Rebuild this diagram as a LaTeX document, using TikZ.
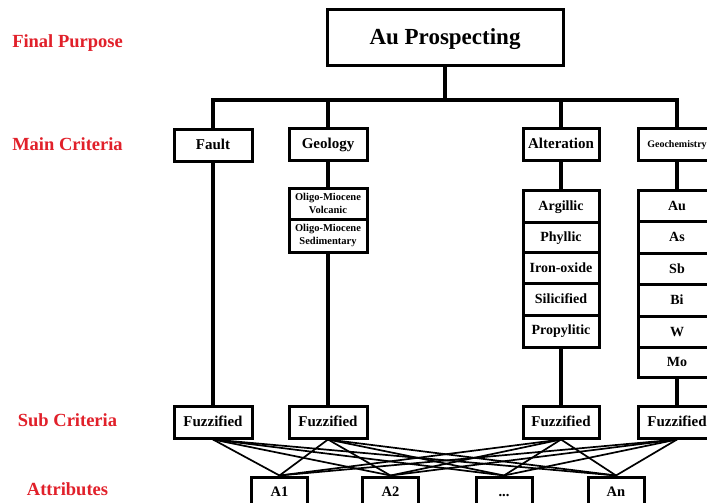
\documentclass[tikz,border=0pt]{standalone}
\usepackage{fontspec}
\setmainfont{Liberation Serif}
\definecolor{lblred}{RGB}{225,32,42}
\begin{document}
\begin{tikzpicture}[x=1pt,y=-1pt,
  box/.style={draw, line width=3pt, inner sep=0pt, text depth=0pt},
  topbox/.style={box, minimum width=236pt, minimum height=56pt, text height=15.2pt, font=\fontsize{23pt}{27pt}\selectfont\bfseries},
  mainbox/.style={box, minimum width=78pt, minimum height=32pt, text height=9.9pt, font=\fontsize{15pt}{18pt}\selectfont\bfseries},
  cell/.style={box, minimum width=76pt, text height=9.2pt, font=\fontsize{14pt}{17pt}\selectfont\bfseries},
  gcell/.style={draw, line width=3pt, inner sep=0pt, minimum width=78pt, align=center, font=\fontsize{10.5pt}{13.5pt}\selectfont\bfseries},
  attrbox/.style={box, minimum width=56pt, minimum height=30pt, text height=9.6pt, font=\fontsize{14.5pt}{17pt}\selectfont\bfseries},
  lbl/.style={anchor=base, text=lblred, inner sep=0pt, font=\fontsize{18.5pt}{22pt}\selectfont\bfseries},
  tree/.style={line width=3.2pt, line join=miter},
  attrline/.style={line width=1.7pt}]
\useasboundingbox (0,0) rectangle (707,503);
\clip (0,0) rectangle (707,503);
\fill[white] (0,0) rectangle (707,503);

% level labels
\node[lbl] (lfp) at (67.5,48) {Final Purpose};
\node[lbl] (lmc) at (67.5,150) {Main Criteria};
\node[lbl] (lsc) at (67.5,426) {Sub Criteria};
\node[lbl] (lat) at (67.5,495) {Attributes};

% goal
\node[topbox] (top) at (445,38) {\raisebox{1.5pt}{Au Prospecting}};

% main criteria
\node[mainbox] (fault) at (213,145) {Fault};
\node[mainbox] (geol) at (328,144) {Geology};
\node[mainbox, minimum width=76pt] (alt) at (561,144) {Alteration};
\node[mainbox, text height=6.6pt, font=\fontsize{10pt}{12pt}\selectfont\bfseries] (geoch) at (677,144) {Geochemistry};

% geology sub boxes
\node[gcell, minimum height=31pt] (g1) at (328,203.5) {Oligo-Miocene\\Volcanic};
\node[gcell, minimum height=33pt] (g2) at (328,235.5) {Oligo-Miocene\\Sedimentary};

% alteration sub boxes
\node[cell, minimum height=32pt] (arg) at (561,206) {Argillic};
\node[cell, minimum height=30pt] (phy) at (561,237) {Phyllic};
\node[cell, minimum height=31pt] (iro) at (561,267.5) {Iron-oxide};
\node[cell, minimum height=32pt] (sil) at (561,299) {Silicified};
\node[cell, minimum height=32pt] (pro) at (561,331) {\raisebox{1.5pt}{Propylitic}};

% geochemistry sub boxes
\node[cell, minimum width=78pt, minimum height=31pt] (au) at (677,205.5) {Au};
\node[cell, minimum width=78pt, minimum height=32pt] (as) at (677,237) {As};
\node[cell, minimum width=78pt, minimum height=31pt] (sb) at (677,268.5) {Sb};
\node[cell, minimum width=78pt, minimum height=32pt] (bi) at (677,300) {Bi};
\node[cell, minimum width=78pt, minimum height=31pt] (w) at (677,331.5) {W};
\node[cell, minimum width=78pt, minimum height=30pt] (mo) at (677,362) {Mo};

% sub criteria
\node[mainbox] (fz1) at (213,422) {Fuzzified};
\node[mainbox] (fz2) at (328,422) {Fuzzified};
\node[mainbox, minimum width=76pt] (fz3) at (561,422) {Fuzzified};
\node[mainbox] (fz4) at (677,422) {Fuzzified};

% attributes
\node[attrbox] (a1) at (279.5,492) {A1};
\node[attrbox] (a2) at (390.5,492) {A2};
\node[attrbox] (a3) at (504,492) {...};
\node[attrbox] (a4) at (616,492) {An};

% tree connectors
\coordinate (bus) at (445,100);
\draw[tree] (top.south) -- (top.south |- bus);
\draw[tree] (fault.north) -- (fault.north |- bus) -- (geoch.north |- bus) -- (geoch.north);
\draw[tree] (geol.north) -- (geol.north |- bus);
\draw[tree] (alt.north) -- (alt.north |- bus);

\draw[tree] (fault.south) -- (fz1.north);
\draw[tree] (geol.south) -- (g1.north);
\draw[tree] (g2.south) -- (fz2.north);
\draw[tree] (alt.south) -- (arg.north);
\draw[tree] (pro.south) -- (fz3.north);
\draw[tree] (geoch.south) -- (au.north);
\draw[tree] (mo.south) -- (fz4.north);

% sub criteria to attributes
\foreach \f in {fz1,fz2,fz3,fz4}
  \foreach \a in {a1,a2,a3,a4}
    \draw[attrline] (\f.south) -- (\a.north);
\end{tikzpicture}
\end{document}
